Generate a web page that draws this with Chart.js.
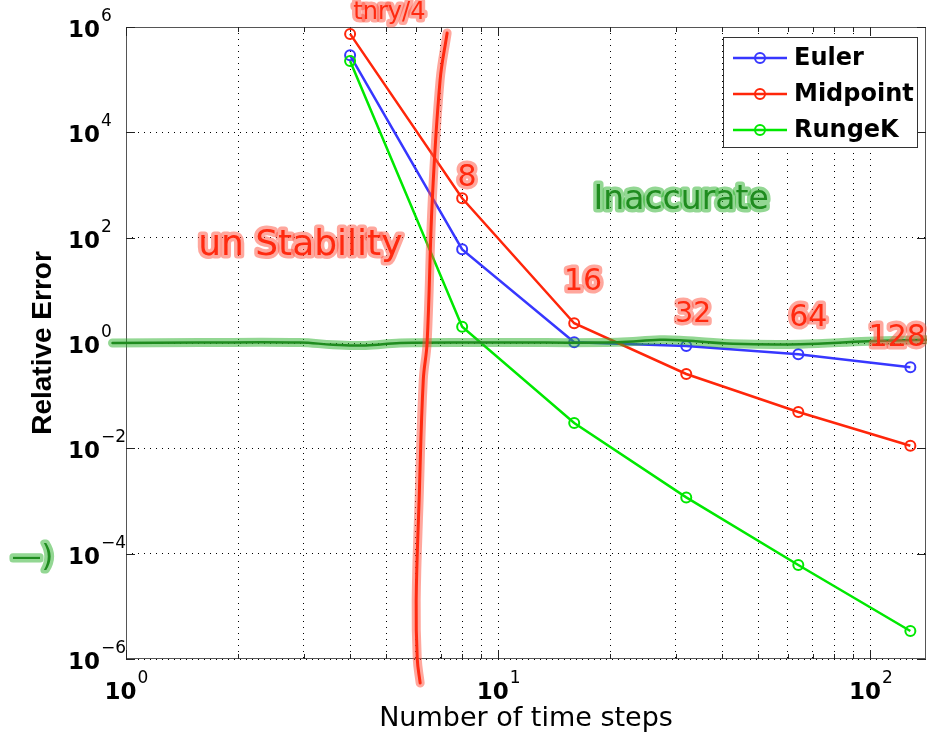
<!DOCTYPE html>
<html>
<head>
<meta charset="utf-8">
<script src="https://cdn.jsdelivr.net/npm/chart.js@4.4.0/dist/chart.umd.min.js"></script>
<style>
  html, body { margin: 0; padding: 0; background: #fff; }
</style>
</head>
<body>
<canvas id="myChart" width="927" height="736"></canvas>
<script>
// values
const steps = [4, 8, 16, 32, 64, 128]
const euler = [2.9e5, 60, 1.03, 0.88, 0.61, 0.345]
const midpoint = [7.4e5, 560, 2.37, 0.258, 0.049, 0.0112]
const rungeK = [2.26e5, 2.04, 0.0303, 0.00117, 6.1e-5, 3.4e-6]
const seriesNames = ['Euler', 'Midpoint', 'RungeK']
const seriesColors = ['rgb(55,55,255)', 'rgb(255,38,10)', 'rgb(0,232,0)']

const xTicks = [1, 2, 3, 4, 5, 6, 7, 8, 9, 10, 20, 30, 40, 50, 60, 70, 80, 90, 100]
const xLabelExps = [0, 1, 2]
const yLabelExps = [-6, -4, -2, 0, 2, 4, 6]

// hand drawn pen strokes on top of the plot
const greenPenX = [0.92, 1.58, 2.93, 3.6, 4.4, 5.45, 10.1, 20.9, 27.2, 31.4, 42.7, 64.9, 98.2, 141]
const greenPenY = [1.0, 1.02, 1.02, 0.93, 0.9, 1.0, 1.02, 1.03, 1.15, 1.12, 0.97, 0.95, 1.08, 1.15]
const redPenX = [7.29, 6.98, 6.65, 6.44, 6.29, 6.13, 6.02, 6.06, 6.17]
const redPenY = [7.7e5, 9.8e4, 519, 1, 0.2, 1.05e-3, 1.3e-5, 1e-6, 3.5e-7]

// hand written notes
const noteTexts = ['un Stability', 'Inaccurate', '8', '16', '32', '64', '128', 'tnry/4', '\u2014)']
const noteX = [2.94, 31, 8.25, 16.9, 33.4, 68.1, 118, 5.1, 0.56]
const noteY = [72, 519, 1350, 14.4, 3.4, 2.98, 1.25, 1.9e6, 8.3e-5]
const noteInk = ['red', 'green', 'red', 'red', 'red', 'red', 'red', 'red', 'green']
const noteSize = [36, 33, 30, 30, 28, 30, 30, 24, 30]

const ink = {
  red: ['#ff2a10', 'rgba(255,80,60,0.5)'],
  green: ['#1f8c1f', 'rgba(40,175,40,0.5)']
}

function series(i, vals, order) {
  return {
    label: seriesNames[i],
    data: steps.map((s, k) => ({x: s, y: vals[k]})),
    borderColor: seriesColors[i],
    backgroundColor: seriesColors[i],
    borderWidth: 2.5,
    pointRadius: 5,
    pointBorderWidth: 2,
    pointBorderColor: seriesColors[i],
    pointBackgroundColor: 'rgba(0,0,0,0)',
    tension: 0,
    order: order
  }
}

function penLine(xs, ys, color, width, order) {
  return {
    label: '',
    data: xs.map((v, k) => ({x: v, y: ys[k]})),
    borderColor: color,
    borderWidth: width,
    pointRadius: 0,
    tension: 0.4,
    borderCapStyle: 'round',
    borderJoinStyle: 'round',
    clip: false,
    order: order
  }
}

function drawPow(ctx, exp, px, py, centered) {
  const es = String(exp).replace('-', '\u2212')
  ctx.font = 'bold 23px "DejaVu Sans"'
  const w10 = ctx.measureText('10').width
  ctx.font = '17px "DejaVu Sans"'
  const we = ctx.measureText(es).width
  const left = centered ? px - (w10 + we) / 2 : px
  ctx.textAlign = 'left'
  ctx.textBaseline = 'alphabetic'
  ctx.font = 'bold 23px "DejaVu Sans"'
  ctx.fillText('10', left, py + 9)
  ctx.font = '17px "DejaVu Sans"'
  ctx.fillText(es, left + w10 + 1, py - 7)
}

const framePlugin = {
  id: 'frame',
  beforeDatasetsDraw(chart) {
    const {ctx, chartArea: a, scales: {x, y}} = chart
    ctx.save()
    ctx.strokeStyle = '#555'
    ctx.lineWidth = 1
    ctx.strokeRect(a.left + 0.5, a.top + 0.5, a.right - a.left - 1, a.bottom - a.top - 1)
    ctx.strokeStyle = '#222'
    ctx.beginPath()
    xTicks.forEach(v => {
      const px = Math.round(x.getPixelForValue(v)) + 0.5
      const len = [1, 10, 100].includes(v) ? 9 : 5
      ctx.moveTo(px, a.bottom); ctx.lineTo(px, a.bottom - len)
      ctx.moveTo(px, a.top); ctx.lineTo(px, a.top + len)
    })
    yLabelExps.forEach(e => {
      const py = Math.round(y.getPixelForValue(Math.pow(10, e))) + 0.5
      ctx.moveTo(a.left, py); ctx.lineTo(a.left + 9, py)
      ctx.moveTo(a.right, py); ctx.lineTo(a.right - 9, py)
    })
    ctx.stroke()
    ctx.restore()
  },
  afterDraw(chart) {
    const {ctx, chartArea: a, scales: {x, y}} = chart
    ctx.save()
    ctx.fillStyle = '#000'
    yLabelExps.forEach(e => drawPow(ctx, e, a.left - 58, y.getPixelForValue(Math.pow(10, e)) + 1, false))
    xLabelExps.forEach(e => drawPow(ctx, e, x.getPixelForValue(Math.pow(10, e)), a.bottom + 31, true))

    // legend box
    const bx = a.right - 203, by = a.top + 10, bw = 194, bh = 110
    ctx.fillStyle = '#fff'
    ctx.fillRect(bx, by, bw, bh)
    ctx.strokeStyle = '#333'
    ctx.lineWidth = 1
    ctx.strokeRect(bx + 0.5, by + 0.5, bw, bh)
    seriesNames.forEach((name, i) => {
      const ry = by + 21 + i * 36
      ctx.strokeStyle = seriesColors[i]
      ctx.lineWidth = 2.5
      ctx.beginPath(); ctx.moveTo(bx + 10, ry); ctx.lineTo(bx + 64, ry); ctx.stroke()
      ctx.lineWidth = 2
      ctx.beginPath(); ctx.arc(bx + 37, ry, 5, 0, Math.PI * 2); ctx.stroke()
      ctx.fillStyle = '#000'
      ctx.font = 'bold 24px "DejaVu Sans"'
      ctx.textAlign = 'left'
      ctx.textBaseline = 'middle'
      ctx.fillText(name, bx + 71, ry + 1)
    })

    // hand written notes
    ctx.textAlign = 'center'
    ctx.textBaseline = 'middle'
    ctx.lineJoin = 'round'
    noteTexts.forEach((t, i) => {
      const px = x.getPixelForValue(noteX[i]), py = y.getPixelForValue(noteY[i])
      ctx.font = noteSize[i] + 'px "DejaVu Sans"'
      ctx.lineWidth = 7
      ctx.strokeStyle = ink[noteInk[i]][1]
      ctx.strokeText(t, px, py)
      ctx.fillStyle = ink[noteInk[i]][0]
      ctx.fillText(t, px, py)
    })
    ctx.restore()
  }
}

var ctx = document.getElementById('myChart').getContext('2d')
var chart = new Chart(ctx, {
  type: 'line',
  data: {
    datasets: [
      penLine(redPenX, redPenY, ink.red[0], 3, 0),
      penLine(redPenX, redPenY, ink.red[1], 9, 1),
      penLine(greenPenX, greenPenY, ink.green[0], 2.5, 2),
      penLine(greenPenX, greenPenY, ink.green[1], 9, 3),
      series(2, rungeK, 4),
      series(1, midpoint, 5),
      series(0, euler, 6)
    ]
  },
  options: {
    responsive: false,
    animation: false,
    layout: { autoPadding: false, padding: { top: 27, right: 1, left: 0, bottom: 0 } },
    plugins: { legend: { display: false }, tooltip: { enabled: false } },
    scales: {
      x: {
        type: 'logarithmic',
        min: 1,
        max: 141,
        afterBuildTicks: s => { s.ticks = xTicks.map(v => ({value: v})) },
        afterFit: s => { s.height = 77 },
        ticks: { display: false },
        grid: { color: '#000', lineWidth: 1, drawTicks: false },
        border: { display: false, dash: [1, 5] },
        title: {
          display: true, text: 'Number of time steps', color: '#000',
          font: { family: 'DejaVu Sans', size: 27 },
          padding: { top: 0, bottom: 1 }
        }
      },
      y: {
        type: 'logarithmic',
        min: 1e-6,
        max: 1e6,
        afterBuildTicks: s => { s.ticks = yLabelExps.map(e => ({value: Math.pow(10, e)})) },
        afterFit: s => { s.width = 126 },
        ticks: { display: false },
        grid: { color: '#000', lineWidth: 1, drawTicks: false },
        border: { display: false, dash: [1, 5] },
        title: {
          display: true, text: 'Relative Error', color: '#000',
          font: { family: 'Liberation Sans', size: 28, weight: 'bold' },
          padding: { top: 26, bottom: 0 }
        }
      }
    }
  },
  plugins: [framePlugin]
})
</script>
</body>
</html>
